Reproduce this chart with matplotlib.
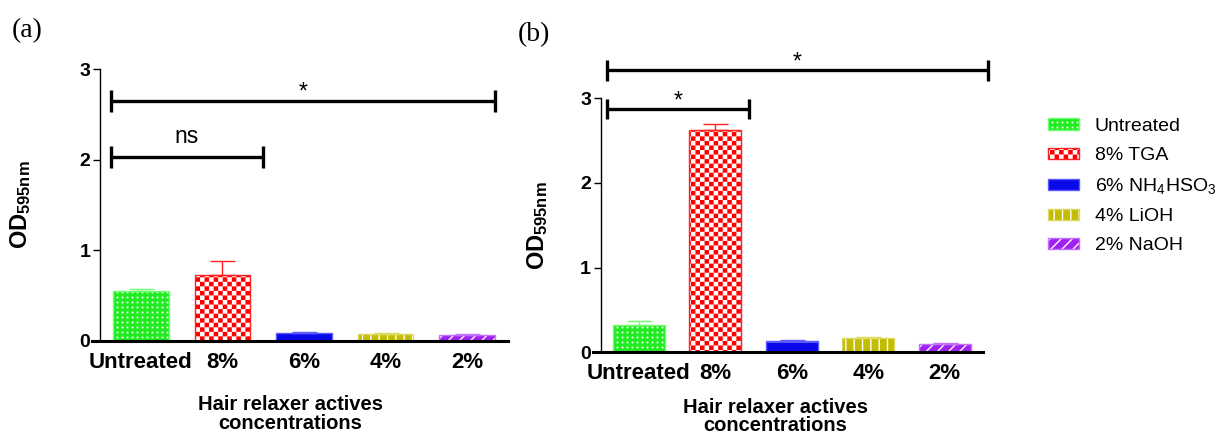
import warnings
import matplotlib
matplotlib.use('Agg')
import matplotlib.pyplot as plt
import matplotlib.hatch as mhatch
from matplotlib.path import Path

warnings.filterwarnings('ignore')

# values
categories = ['Untreated', '8%', '6%', '4%', '2%']
legend_labels = ['Untreated', '8% TGA', '6% NH$_4$HSO$_3$', '4% LiOH', '2% NaOH']
mean_a = [0.55, 0.73, 0.09, 0.08, 0.07]
err_a = [0.02, 0.15, 0.006, 0.006, 0.005]
mean_b = [0.32, 2.63, 0.13, 0.165, 0.10]
err_b = [0.05, 0.07, 0.012, 0.015, 0.005]
# significance brackets: (from, to, height, text)
sig_a = [(-0.37, 4.34, 2.65, '*'), (-0.37, 1.50, 2.03, 'ns')]
sig_b = [(-0.42, 4.56, 3.33, '*'), (-0.42, 1.44, 2.87, '*')]

face = ['#1eec1e', '#ff0000', '#0a0ae8', '#c4bc00', '#a020f0']
edge = ['#70ff70', '#ff2020', '#5a5aff', '#dcd860', '#c070ff']
hatches = ['d', 'c', '-', '||', '///']


# extra hatch patterns: square dot grid and checkerboard
class GridDots(mhatch.HatchPatternBase):
    def __init__(self, hatch, density):
        self.n = 20 if 'd' in hatch else 0
        self.num_vertices = self.n * self.n * 5

    def set_vertices_and_codes(self, vertices, codes):
        s = 0.002
        k = 0
        for i in range(self.n):
            for j in range(self.n):
                x, y = (i + 0.5) / self.n, (j + 0.5) / self.n
                vertices[k:k + 5] = [(x - s, y - s), (x + s, y - s), (x + s, y + s),
                                     (x - s, y + s), (x - s, y - s)]
                codes[k:k + 5] = [Path.MOVETO, Path.LINETO, Path.LINETO,
                                  Path.LINETO, Path.CLOSEPOLY]
                k += 5


class Checker(mhatch.HatchPatternBase):
    def __init__(self, hatch, density):
        self.n = 22 if 'c' in hatch else 0
        self.num_vertices = self.n * self.n // 2 * 5

    def set_vertices_and_codes(self, vertices, codes):
        c = 1.0 / self.n
        s = (c - 0.0139) / 2
        k = 0
        for i in range(self.n):
            for j in range(self.n):
                if (i + j) % 2:
                    continue
                x, y = (i + 0.5) * c, (j + 0.5) * c
                vertices[k:k + 5] = [(x - s, y - s), (x + s, y - s), (x + s, y + s),
                                     (x - s, y + s), (x - s, y - s)]
                codes[k:k + 5] = [Path.MOVETO, Path.LINETO, Path.LINETO,
                                  Path.LINETO, Path.CLOSEPOLY]
                k += 5


mhatch._hatch_types.extend([GridDots, Checker])

plt.rcParams['font.family'] = ['Liberation Sans', 'DejaVu Sans']
plt.rcParams['mathtext.fontset'] = 'custom'
plt.rcParams['mathtext.rm'] = 'Liberation Sans'
plt.rcParams['mathtext.bf'] = 'Liberation Sans:bold'
plt.rcParams['mathtext.it'] = 'Liberation Sans:italic'
plt.rcParams['mathtext.default'] = 'regular'
plt.rcParams['hatch.linewidth'] = 1.0

fig = plt.figure(figsize=(12.22, 4.34), dpi=100)
ax_a = fig.add_axes([0.0818, 0.2143, 0.3339, 0.6267])
ax_b = fig.add_axes([0.4916, 0.1882, 0.3128, 0.5853])


def panel(ax, means, errs, sigs, lab_x, lab_y, ylab_x):
    x = range(len(categories))
    handles = []
    for i in x:
        cont = ax.bar(i, means[i], width=0.68, color=face[i], edgecolor=edge[i],
                      linewidth=1.0, hatch=hatches[i], label=legend_labels[i],
                      yerr=[[0], [errs[i]]], capsize=9,
                      error_kw=dict(ecolor=edge[i], elinewidth=1.0, capthick=1.0))
        for p in cont.patches:
            p._hatch_color = (1, 1, 1, 1)
        handles.append(cont.patches[0])
    for x0, x1, h, txt in sigs:
        ax.plot([x0, x1], [h, h], color='black', lw=2.4, clip_on=False,
                solid_capstyle='butt')
        for xe in (x0, x1):
            ax.plot([xe, xe], [h - 0.12, h + 0.12], color='black', lw=2.4,
                    clip_on=False, solid_capstyle='butt')
        if txt == 'ns':
            ax.text((x0 + x1) / 2, h + 0.15, txt, ha='center', va='baseline',
                    fontsize=16.5)
        else:
            ax.text((x0 + x1) / 2, h + 0.02, txt, ha='center', va='baseline',
                    fontsize=16.5)
    ax.set_xlim(-0.5, 4.5)
    ax.set_ylim(0, 3)
    ax.set_yticks([0, 1, 2, 3])
    ax.set_xticks(list(x))
    ax.set_xticklabels(categories, fontsize=16, fontweight='bold')
    for t in ax.get_yticklabels():
        t.set_fontweight('bold')
    ax.tick_params(axis='y', labelsize=14, length=5, width=1.0, pad=2)
    ax.tick_params(axis='x', length=0, pad=8)
    ax.spines['top'].set_visible(False)
    ax.spines['right'].set_visible(False)
    ax.spines['left'].set_linewidth(1.0)
    ax.spines['bottom'].set_linewidth(2.2)
    ax.spines['bottom'].set_bounds(-0.6, 4.5)
    ax.set_xlabel('Hair relaxer actives\nconcentrations', fontsize=14.5,
                  fontweight='bold', linespacing=0.95)
    ax.xaxis.set_label_coords(lab_x, lab_y)
    ax.set_ylabel(r'$\mathbf{OD}_{\mathbf{595nm}}$', fontsize=17)
    ax.yaxis.set_label_coords(ylab_x, 0.5)
    return handles


panel(ax_a, mean_a, err_a, sig_a, 0.466, -0.20, -0.164)
handles = panel(ax_b, mean_b, err_b, sig_b, 0.456, -0.178, -0.133)

fig.legend(handles, legend_labels, loc='upper left', bbox_to_anchor=(0.8576, 0.728),
           frameon=False, fontsize=14, handlelength=1.6, handleheight=0.52,
           handletextpad=0.8, labelspacing=0.62, borderpad=0, borderaxespad=0)

fig.text(12 / 1222, 1 - 31 / 434, '(a)', family='Liberation Serif', fontsize=20,
         va='center')
fig.text(518 / 1222, 1 - 34.5 / 434, '(b)', family='Liberation Serif', fontsize=20,
         va='center')

fig.savefig('out.png', dpi=100)
